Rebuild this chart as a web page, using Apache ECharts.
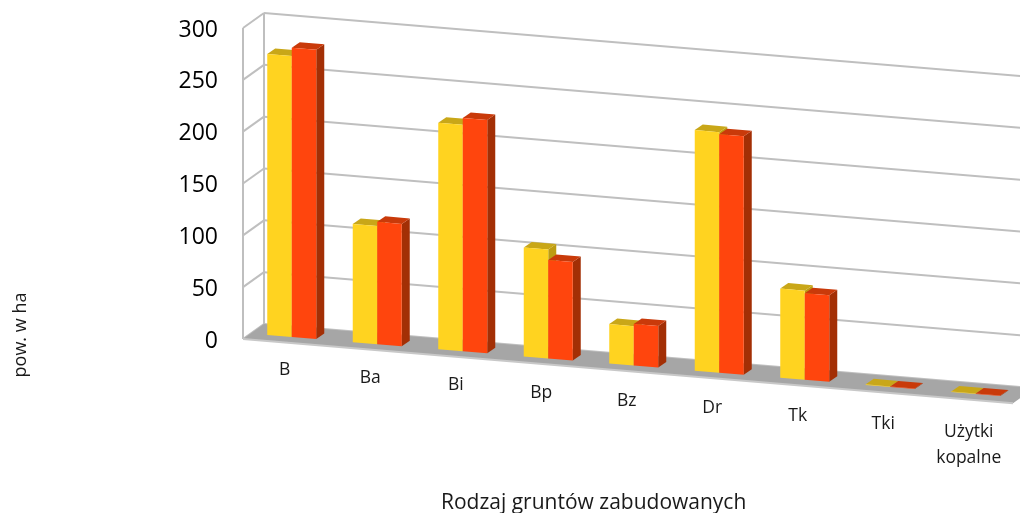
<!DOCTYPE html>
<html><head><meta charset="utf-8">
<style>html,body{margin:0;padding:0;background:#fff}#c{width:1020px;height:513px}</style>
<script src="https://cdn.jsdelivr.net/npm/echarts@6/dist/echarts.min.js"></script>
</head><body><div id="c"></div>
<script>
const categories = ['B','Ba','Bi','Bp','Bz','Dr','Tk','Tki','Użytki\nkopalne'];
const seriesYellow = [271,114,218.5,105,38,232,86,0.5,0.5];
const seriesRed = [279,118,225,95,40,230,83.5,0.5,0.5];
const yTicks = [0,50,100,150,200,250,300];
const axisTitleX = 'Rodzaj gruntów zabudowanych';
const axisTitleY = 'pow. w ha';

const FONT = 'Open Sans';
const SLOPE = 0.0833, WALL_LEFT = -6, DEPTH_X = 21, DEPTH_Y = -15;
const BAR_W = 24.5, BAR_LIFT = -6, BAR_DX = 8, BAR_DY = -5.5;
const GRID = '#bfbfbf';

function lineShape(p,q){return {x1:p[0],y1:p[1],x2:q[0],y2:q[1]};}
// Screen point on the sheared front plane for a pixel x and a value
function onPlane(api,x,val,originX){
  const y = api.coord([0,val])[1];
  return [x, y + (x-originX)*SLOPE];
}
function frameItem(params,api){
  const cs = params.coordSys, v = api.value(1);
  const L = cs.x + WALL_LEFT, R = cs.x + cs.width + 60;
  const front = [L, api.coord([0,v])[1]];
  const back = [L+DEPTH_X, front[1]+DEPTH_Y];
  const backEnd = [R, back[1] + (R-back[0])*SLOPE];
  const style = {stroke:GRID,lineWidth:2,fill:null};
  const kids = [
    {type:'line',shape:lineShape(front,back),style},
    {type:'line',shape:lineShape(back,backEnd),style}
  ];
  if(v===yTicks[0]){
    const topF = api.coord([0,yTicks[yTicks.length-1]])[1];
    kids.push({type:'line',shape:lineShape(front,[L,topF]),style});
    kids.push({type:'line',shape:lineShape(back,[L+DEPTH_X,topF+DEPTH_Y]),style});
  }
  return {type:'group',children:kids};
}
function floorItem(params,api){
  const cs = params.coordSys;
  const L = cs.x + WALL_LEFT, R = L + 770, y = api.coord([0,0])[1];
  const a=[L,y], b=[R,y+(R-L)*SLOPE], c=[R+DEPTH_X,b[1]+DEPTH_Y], d=[L+DEPTH_X,y+DEPTH_Y];
  return {type:'group',children:[
    {type:'polygon',shape:{points:[a,b,c,d]},style:{fill:'#a6a6a6'}},
    {type:'line',shape:lineShape(a,b),style:{stroke:'#c8c8c8',lineWidth:2}}
  ]};
}
function barRenderer(side,colors){
  return function(params,api){
    const i = api.value(0), v = api.value(1), cs = params.coordSys;
    const L = cs.x + WALL_LEFT;
    const cx = api.coord([i,0])[0];
    const x0 = side===0 ? cx-BAR_W : cx, x1 = x0+BAR_W;
    const pt = (x,val)=>{const p=onPlane(api,x,val,L);return [p[0],p[1]+BAR_LIFT];};
    const bl=pt(x0,0), br=pt(x1,0), tl=pt(x0,v), tr=pt(x1,v);
    const sh=p=>[p[0]+BAR_DX,p[1]+BAR_DY];
    return {type:'group',children:[
      {type:'polygon',shape:{points:[br,sh(br),sh(tr),tr]},style:{fill:colors.side}},
      {type:'polygon',shape:{points:[tl,tr,sh(tr),sh(tl)]},style:{fill:colors.top}},
      {type:'polygon',shape:{points:[bl,br,tr,tl]},style:{fill:colors.front}}
    ]};
  };
}
function labelItem(params,api){
  const i = api.value(0), cs = params.coordSys;
  const cx = api.coord([i,0])[0]-7, yB = api.coord([0,0])[1];
  const y = yB + 18 + (cx - api.coord([0,0])[0]+7)*0.09;
  return {type:'text',x:cx,y:y,style:{text:categories[i],fill:'#1a1a1a',font:'17.5px "'+FONT+'"',textAlign:'center',textVerticalAlign:'top',lineHeight:26}};
}

const chart = echarts.init(document.getElementById('c'),null,{renderer:'canvas'});
chart.setOption({
  animation:false,
  backgroundColor:'#fff',
  grid:{left:249,width:769.5,top:28,bottom:174,containLabel:false},
  xAxis:{type:'category',data:categories,show:false},
  yAxis:{type:'value',min:0,max:300,interval:50,
    axisLine:{show:false},axisTick:{show:false},splitLine:{show:false},
    axisLabel:{margin:31,fontFamily:FONT,fontSize:23,color:'#000',verticalAlign:'top',lineHeight:4}},
  graphic:[
    {type:'text',left:441,top:493,style:{text:axisTitleX,font:'21px "'+FONT+'"',fill:'#1a1a1a'}},
    {type:'text',x:21,y:335,rotation:Math.PI/2,style:{text:axisTitleY,font:'18px "'+FONT+'"',fill:'#1a1a1a',textAlign:'center',textVerticalAlign:'middle'}}
  ],
  series:[
    {type:'custom',name:'frame',coordinateSystem:'cartesian2d',clip:false,silent:true,renderItem:frameItem,data:yTicks.map(v=>[0,v]),encode:{x:0,y:1}},
    {type:'custom',name:'floor',coordinateSystem:'cartesian2d',clip:false,silent:true,renderItem:floorItem,data:[[0,0]],encode:{x:0,y:1}},
    {type:'custom',name:'seria 1',coordinateSystem:'cartesian2d',clip:false,renderItem:barRenderer(0,{front:'#ffd320',top:'#c9a718',side:'#bd9c12'}),data:seriesYellow.map((v,i)=>[i,v]),encode:{x:0,y:1}},
    {type:'custom',name:'seria 2',coordinateSystem:'cartesian2d',clip:false,renderItem:barRenderer(1,{front:'#ff450d',top:'#c93a0a',side:'#a32f05'}),data:seriesRed.map((v,i)=>[i,v]),encode:{x:0,y:1}},
    {type:'custom',name:'labels',coordinateSystem:'cartesian2d',clip:false,silent:true,renderItem:labelItem,data:categories.map((c,i)=>[i,0]),encode:{x:0,y:1}}
  ]
});
</script></body></html>
